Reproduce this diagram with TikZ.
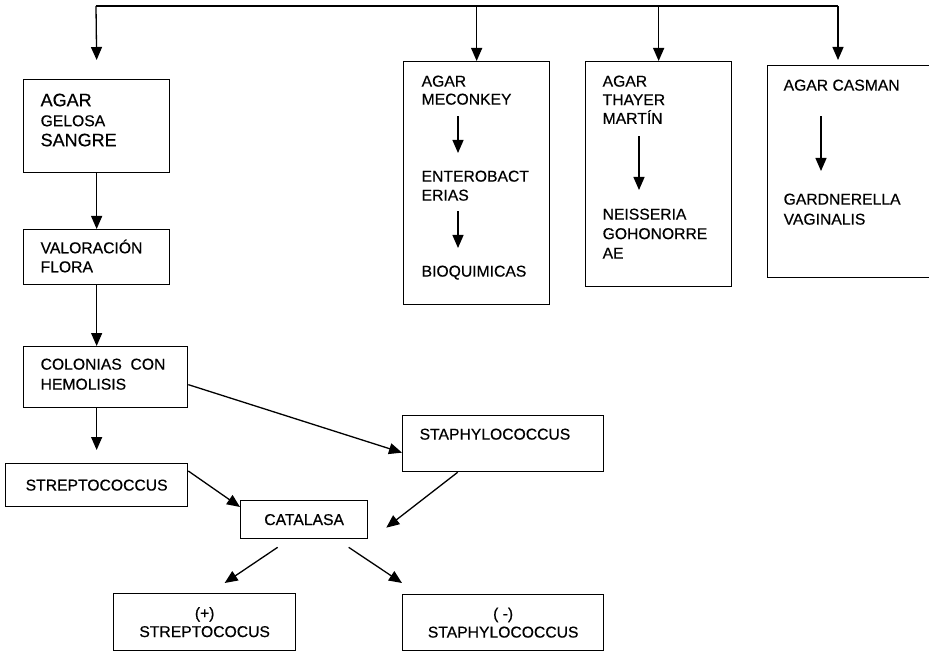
\documentclass[tikz,border=0pt]{standalone}
\usepackage{fontspec}
\setmainfont{Liberation Sans}[FakeBold=0.45]
\usetikzlibrary{arrows.meta}

\tikzset{
  caja/.style={draw,line width=1.3pt,inner sep=0pt,anchor=north west},
  texto/.style={inner sep=0pt,anchor=north west,align=left},
  centrado/.style={caja,align=center},
}

\begin{document}
\begin{tikzpicture}[x=1pt,y=-1pt,>={Triangle[length=13pt,width=11pt]},
  line width=1.3pt,font=\fontsize{15.7}{18.6}\selectfont]

\fill[white] (0,0) rectangle (929,652);
\useasboundingbox (0,0) rectangle (929,652);

% cajas
\node[caja,minimum width=146,minimum height=93] (gelosa) at (23,79) {};
\node[caja,minimum width=146,minimum height=55] (valoracion) at (23,229) {};
\node[caja,minimum width=164,minimum height=61] (colonias) at (23,346) {};
\node[centrado,minimum width=182,minimum height=43] (strepto) at (5,463) {STREPTOCOCCUS};
\node[caja,minimum width=201,minimum height=56] (staph) at (402,415) {};
\node[centrado,minimum width=127,minimum height=38] (catalasa) at (240,500) {CATALASA};
\node[centrado,minimum width=182,minimum height=57] (pos) at (113,593) {(+)\\STREPTOCOCUS};
\node[centrado,minimum width=201,minimum height=56] (neg) at (402,594) {( -)\\STAPHYLOCOCCUS};
\node[caja,minimum width=146,minimum height=243] (meconkey) at (403,61) {};
\node[caja,minimum width=146,minimum height=225] (thayer) at (585,61) {};
\node[caja,minimum width=166,minimum height=212] (casman) at (767,65) {};

% textos
\node[texto,font=\fontsize{15.7}{20}\selectfont] (gelosa-t) at (40,93)
  {{\fontsize{18}{20}\selectfont AGAR}\\GELOSA\\{\fontsize{18}{20}\selectfont SANGRE}};
\node[texto,font=\fontsize{15.7}{19}\selectfont] (valoracion-t) at (40,239) {VALORACIÓN\\FLORA};
\node[texto,font=\fontsize{15.7}{20}\selectfont] (colonias-t) at (40,358) {COLONIAS\ \ CON\\HEMOLISIS};
\node[texto] (staph-t) at (419,428) {STAPHYLOCOCCUS};
\node[texto,font=\fontsize{15.7}{18}\selectfont] (meco-a) at (421,75) {AGAR\\MECONKEY};
\node[texto,font=\fontsize{15.7}{19}\selectfont] (meco-b) at (421,170) {ENTEROBACT\\ERIAS};
\node[texto] (meco-c) at (421,265) {BIOQUIMICAS};
\node[texto] (thayer-a) at (602,75) {AGAR\\THAYER\\MARTÍN};
\node[texto,font=\fontsize{15.7}{19.5}\selectfont] (thayer-b) at (602,208) {NEISSERIA\\GOHONORRE\\AE};
\node[texto] (casman-a) at (783,79) {AGAR CASMAN};
\node[texto,font=\fontsize{15.7}{20}\selectfont] (casman-b) at (783,193) {GARDNERELLA\\VAGINALIS};

% linea superior
\coordinate (bus-i) at (96,6);
\coordinate (bus-d) at (838,6);
\draw (bus-i) -- (bus-d);
\draw[->] (bus-i) -- ([yshift=19pt]gelosa.north);
\draw[->] (meconkey.north |- bus-i) -- (meconkey.north);
\draw[->] (thayer.north |- bus-i) -- (thayer.north);
\draw[->] (bus-d) -- ([yshift=5pt]casman.north -| bus-d);

% columna izquierda
\draw[->] (gelosa) -- (valoracion);
\draw[->] (valoracion) -- (valoracion.south |- colonias.north);
\draw[->] (strepto.north |- colonias.south) -- ([yshift=13pt]strepto.north);

\draw[->] ([yshift=-7.5pt]colonias.east) -- ([yshift=-9pt]staph.west);
\draw[->] ([yshift=-8pt]strepto.north east) -- ([yshift=-7pt]catalasa.north west);
\draw[->] ([xshift=-45.5pt]staph.south) -- ([shift={(18pt,-8pt)}]catalasa.east);

\draw[->] ([shift={(-26.5pt,-8pt)}]catalasa.south) -- ([shift={(20pt,10pt)}]pos.north);
\draw[->] ([shift={(44.5pt,-8pt)}]catalasa.south) -- ([yshift=11pt]neg.north west);

% flechas internas
\draw[->] ([shift={(37pt,-11pt)}]meco-a.south west) -- ([shift={(37pt,17pt)}]meco-b.north west);
\draw[->] ([shift={(37pt,-10pt)}]meco-b.south west) -- ([shift={(37pt,17pt)}]meco-c.north west);
\draw[->] ([shift={(37pt,-12pt)}]thayer-a.south west) -- ([shift={(37pt,18pt)}]thayer-b.north west);
\draw[->] ([shift={(38pt,-25pt)}]casman-a.south west) -- ([shift={(38pt,22pt)}]casman-b.north west);

\end{tikzpicture}
\end{document}
